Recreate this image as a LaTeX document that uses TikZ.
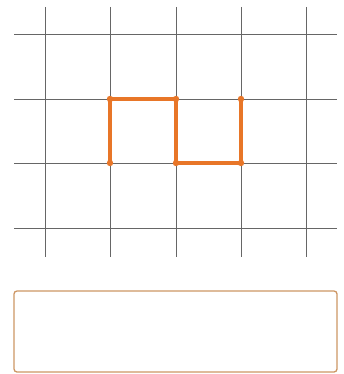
\documentclass[tikz,border=0pt]{standalone}
\begin{document}
\begin{tikzpicture}[x=1pt,y=-1pt,
  gridline/.style={draw=black!60,line width=0.6pt},
  pathline/.style={draw=pathorange,line width=3.6pt,line cap=round,line join=round},
  dotmark/.style={fill=pathorange},
  answerbox/.style={draw=boxbrown,line width=1.3pt,rounded corners=3pt}]
\definecolor{pathorange}{RGB}{232,118,40}
\definecolor{boxbrown}{RGB}{205,150,100}
\useasboundingbox (0,0) rectangle (343,374);
% grid
\foreach \x in {45,110,176,241,306} \draw[gridline] (\x,7) -- (\x,257);
\foreach \y in {34,99,163,228} \draw[gridline] (14,\y) -- (337,\y);
% path points
\coordinate (p1) at (110,163);
\coordinate (p2) at (110,99);
\coordinate (p3) at (176,99);
\coordinate (p4) at (176,163);
\coordinate (p5) at (241,163);
\coordinate (p6) at (241,99);
\draw[pathline] (p1) -- (p2) -- (p3) -- (p4) -- (p5) -- (p6);
\foreach \p in {p1,p2,p3,p4,p5,p6} \fill[dotmark] (\p) circle (3.2pt);
% answer box
\draw[answerbox] (14,291) rectangle (337,372);
\end{tikzpicture}
\end{document}
